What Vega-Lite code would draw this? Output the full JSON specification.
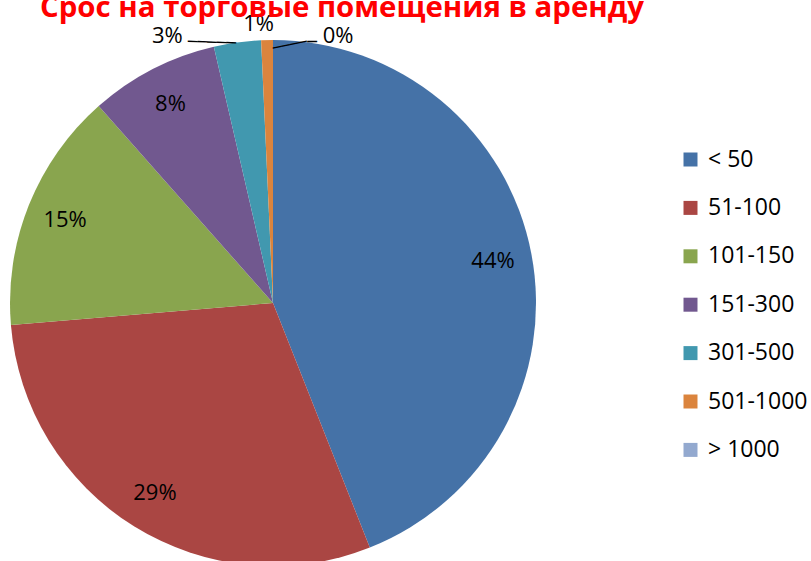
{
  "$schema": "https://vega.github.io/schema/vega-lite/v6.json",
  "width": 546,
  "height": 606,
  "autosize": "none",
  "padding": {"left": 0, "top": 0, "right": 265, "bottom": 0},
  "background": "white",
  "title": {
    "text": "Срос на торговые помещения в аренду",
    "color": "#FF0000",
    "font": "Open Sans",
    "fontSize": 29.4,
    "fontWeight": "bold",
    "anchor": "middle",
    "frame": "group",
    "orient": "top",
    "baseline": "alphabetic",
    "offset": -46,
    "dx": 69
  },
  "data": {
    "values": [
      {"size": "< 50", "share": 44.0, "label": "44%", "idx": 1},
      {"size": "51-100", "share": 29.67, "label": "29%", "idx": 2},
      {"size": "101-150", "share": 14.8, "label": "15%", "idx": 3},
      {"size": "151-300", "share": 7.92, "label": "8%", "idx": 4},
      {"size": "301-500", "share": 2.89, "label": "3%", "idx": 5},
      {"size": "501-1000", "share": 0.72, "label": "1%", "idx": 6},
      {"size": "> 1000", "share": 0.0, "label": "0%", "idx": 7}
    ]
  },
  "encoding": {
    "theta": {"field": "share", "type": "quantitative", "stack": true},
    "order": {"field": "idx", "type": "quantitative"},
    "detail": {"field": "size", "type": "nominal"}
  },
  "layer": [
    {
      "mark": {"type": "arc", "outerRadius": 263, "strokeWidth": 0},
      "encoding": {
        "color": {
          "field": "size",
          "type": "nominal",
          "scale": {
            "domain": ["< 50", "51-100", "101-150", "151-300", "301-500", "501-1000", "> 1000"],
            "range": ["#4572A7", "#AA4643", "#89A54E", "#71588F", "#4198AF", "#DB843D", "#93A9CF"]
          },
          "legend": {
            "orient": "none",
            "legendX": 679,
            "legendY": 148,
            "title": null,
            "padding": 0,
            "symbolType": "square",
            "symbolSize": 196,
            "symbolStrokeWidth": 0,
            "labelFont": "Open Sans",
            "labelFontSize": 23,
            "labelColor": "black",
            "labelOffset": 6,
            "rowPadding": 24.4
          }
        }
      }
    },
    {
      "mark": {"type": "text", "radius": 224, "font": "Open Sans", "fontSize": 22, "color": "black", "align": "center", "baseline": "middle"},
      "encoding": {
        "text": {"condition": {"test": "datum.idx > 4", "value": ""}, "field": "label"}
      }
    },
    {
      "mark": {"type": "text", "radius": 285, "dx": -67, "dy": 15, "font": "Open Sans", "fontSize": 22, "color": "black", "align": "center", "baseline": "middle"},
      "encoding": {
        "text": {"condition": {"test": "datum.idx != 5", "value": ""}, "field": "label"}
      }
    },
    {
      "mark": {"type": "text", "radius": 280, "dx": -8, "dy": 1, "font": "Open Sans", "fontSize": 22, "color": "black", "align": "center", "baseline": "middle"},
      "encoding": {
        "text": {"condition": {"test": "datum.idx != 6", "value": ""}, "field": "label"}
      }
    },
    {
      "mark": {"type": "text", "radius": 285, "dx": 65, "dy": 18, "font": "Open Sans", "fontSize": 22, "color": "black", "align": "center", "baseline": "middle"},
      "encoding": {
        "text": {"condition": {"test": "datum.idx != 7", "value": ""}, "field": "label"}
      }
    },
    {
      "mark": {"type": "text", "radius": 285, "dx": -21.5, "dy": 22.7, "angle": 2, "font": "DejaVu Sans", "fontSize": 16, "color": "black", "align": "center", "baseline": "middle"},
      "encoding": {
        "text": {"condition": {"test": "datum.idx != 5", "value": ""}, "value": "─────"}
      }
    },
    {
      "mark": {"type": "text", "radius": 285, "dx": 11.1, "dy": 30.4, "angle": -11.6, "font": "DejaVu Sans", "fontSize": 14.4, "color": "black", "align": "center", "baseline": "middle"},
      "encoding": {
        "text": {"condition": {"test": "datum.idx != 7", "value": ""}, "value": "────"}
      }
    },
    {
      "mark": {"type": "text", "radius": 285, "dx": 39, "dy": 24, "font": "DejaVu Sans", "fontSize": 16, "color": "black", "align": "center", "baseline": "middle"},
      "encoding": {
        "text": {"condition": {"test": "datum.idx != 7", "value": ""}, "value": "─"}
      }
    }
  ]
}
